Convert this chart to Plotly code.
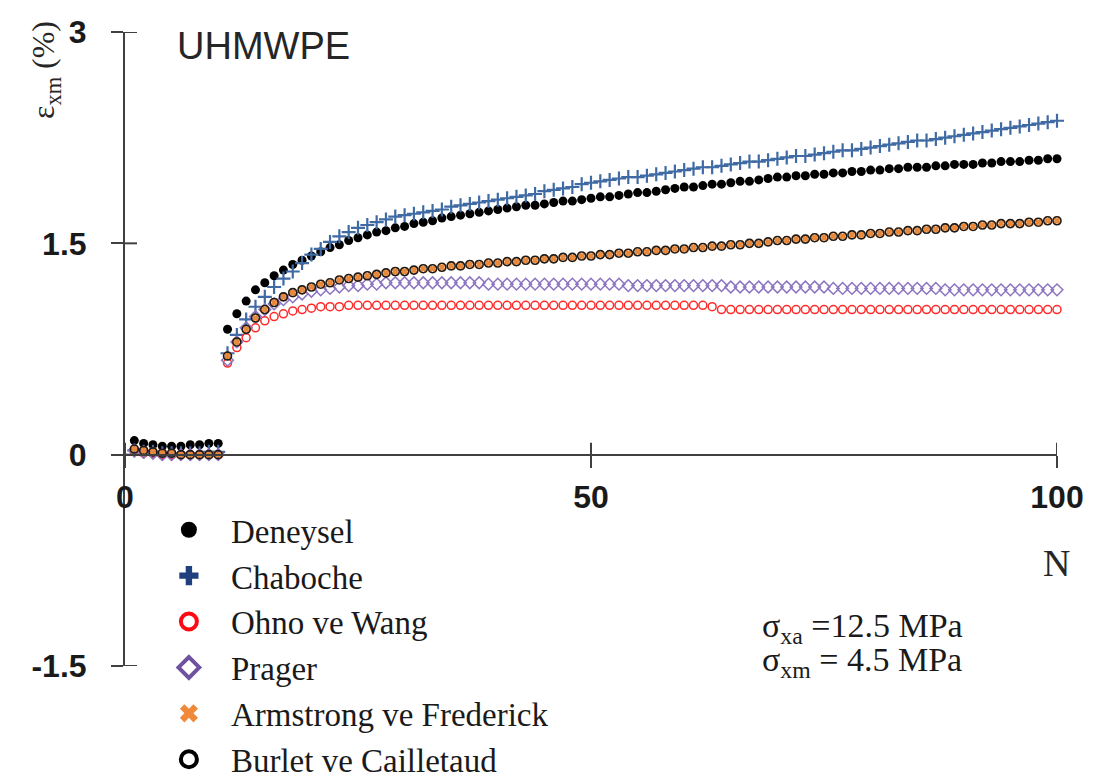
import plotly.graph_objects as go

# Cycle number N = 1 .. 100
cycles = list(range(1, 101))

deneysel = [
    0.10, 0.08, 0.07, 0.06, 0.06, 0.06, 0.07, 0.07, 0.08, 0.08,
    0.89, 1.00, 1.09, 1.17, 1.22, 1.27, 1.31, 1.35, 1.38, 1.41,
    1.44, 1.47, 1.49, 1.52, 1.54, 1.56, 1.58, 1.59, 1.61, 1.62,
    1.64, 1.65, 1.66, 1.68, 1.69, 1.70, 1.71, 1.72, 1.73, 1.74,
    1.75, 1.76, 1.77, 1.77, 1.78, 1.79, 1.80, 1.80, 1.81, 1.82,
    1.83, 1.83, 1.84, 1.85, 1.86, 1.86, 1.87, 1.88, 1.89, 1.90,
    1.90, 1.91, 1.92, 1.92, 1.93, 1.94, 1.94, 1.95, 1.96, 1.97,
    1.97, 1.98, 1.98, 1.99, 1.99, 2.00, 2.00, 2.01, 2.01, 2.02,
    2.02, 2.03, 2.03, 2.04, 2.04, 2.04, 2.05, 2.05, 2.06, 2.06,
    2.06, 2.07, 2.07, 2.08, 2.08, 2.08, 2.09, 2.09, 2.10, 2.10,
]

chaboche = [
    0.03, 0.02, 0.02, 0.01, 0.01, 0.01, 0.01, 0.01, 0.02, 0.02,
    0.72, 0.85, 0.96, 1.05, 1.12, 1.19, 1.25, 1.30, 1.36, 1.42,
    1.46, 1.51, 1.55, 1.58, 1.61, 1.63, 1.65, 1.67, 1.69, 1.70,
    1.71, 1.72, 1.73, 1.74, 1.76, 1.77, 1.78, 1.79, 1.80, 1.81,
    1.82, 1.83, 1.84, 1.85, 1.87, 1.88, 1.89, 1.90, 1.92, 1.93,
    1.94, 1.95, 1.96, 1.97, 1.97, 1.98, 1.99, 2.00, 2.01, 2.02,
    2.03, 2.04, 2.04, 2.05, 2.06, 2.07, 2.08, 2.08, 2.09, 2.10,
    2.11, 2.12, 2.12, 2.13, 2.14, 2.15, 2.16, 2.16, 2.17, 2.18,
    2.19, 2.20, 2.21, 2.22, 2.23, 2.23, 2.24, 2.25, 2.26, 2.27,
    2.28, 2.29, 2.30, 2.31, 2.32, 2.33, 2.34, 2.35, 2.36, 2.37,
]

ohno_wang = [
    0.02, 0.01, 0.01, 0.00, 0.00, 0.00, 0.00, 0.00, 0.00, 0.00,
    0.65, 0.76, 0.83, 0.90, 0.95, 0.98, 1.00, 1.02, 1.03, 1.04,
    1.05, 1.05, 1.05, 1.06, 1.06, 1.06, 1.06, 1.06, 1.06, 1.06,
    1.06, 1.06, 1.06, 1.06, 1.06, 1.06, 1.06, 1.06, 1.06, 1.06,
    1.06, 1.06, 1.06, 1.06, 1.06, 1.06, 1.06, 1.06, 1.06, 1.06,
    1.06, 1.06, 1.06, 1.06, 1.06, 1.06, 1.06, 1.06, 1.06, 1.06,
    1.06, 1.06, 1.05, 1.03, 1.03, 1.03, 1.03, 1.03, 1.03, 1.03,
    1.03, 1.03, 1.03, 1.03, 1.03, 1.03, 1.03, 1.03, 1.03, 1.03,
    1.03, 1.03, 1.03, 1.03, 1.03, 1.03, 1.03, 1.03, 1.03, 1.03,
    1.03, 1.03, 1.03, 1.03, 1.03, 1.03, 1.03, 1.03, 1.03, 1.03,
]

prager = [
    0.03, 0.02, 0.01, 0.00, 0.00, 0.00, 0.00, 0.00, 0.00, 0.00,
    0.67, 0.80, 0.90, 0.98, 1.03, 1.07, 1.10, 1.12, 1.14, 1.16,
    1.17, 1.18, 1.19, 1.20, 1.20, 1.21, 1.21, 1.22, 1.22, 1.22,
    1.22, 1.22, 1.22, 1.22, 1.22, 1.22, 1.22, 1.22, 1.21, 1.21,
    1.21, 1.21, 1.21, 1.21, 1.21, 1.21, 1.21, 1.21, 1.21, 1.21,
    1.21, 1.21, 1.21, 1.20, 1.20, 1.20, 1.20, 1.20, 1.20, 1.20,
    1.20, 1.20, 1.20, 1.20, 1.19, 1.19, 1.19, 1.19, 1.19, 1.19,
    1.19, 1.19, 1.19, 1.19, 1.19, 1.18, 1.18, 1.18, 1.18, 1.18,
    1.18, 1.18, 1.18, 1.18, 1.18, 1.18, 1.18, 1.17, 1.17, 1.17,
    1.17, 1.17, 1.17, 1.17, 1.17, 1.17, 1.17, 1.17, 1.17, 1.17,
]

armstrong_frederick = [
    0.04, 0.03, 0.02, 0.01, 0.01, 0.00, 0.00, 0.00, 0.00, 0.00,
    0.70, 0.80, 0.89, 0.97, 1.03, 1.08, 1.12, 1.15, 1.17, 1.19,
    1.21, 1.22, 1.24, 1.25, 1.26, 1.27, 1.28, 1.29, 1.30, 1.30,
    1.31, 1.32, 1.32, 1.33, 1.34, 1.34, 1.35, 1.35, 1.36, 1.36,
    1.37, 1.37, 1.38, 1.38, 1.39, 1.39, 1.40, 1.40, 1.41, 1.41,
    1.42, 1.42, 1.43, 1.43, 1.44, 1.44, 1.45, 1.45, 1.46, 1.46,
    1.47, 1.47, 1.48, 1.48, 1.49, 1.49, 1.50, 1.50, 1.51, 1.52,
    1.52, 1.53, 1.53, 1.54, 1.54, 1.55, 1.55, 1.56, 1.56, 1.57,
    1.57, 1.58, 1.58, 1.59, 1.59, 1.60, 1.60, 1.61, 1.61, 1.62,
    1.62, 1.63, 1.63, 1.64, 1.64, 1.64, 1.65, 1.65, 1.66, 1.66,
]

burlet_cailletaud = [
    0.04, 0.03, 0.02, 0.01, 0.01, 0.00, 0.00, 0.00, 0.00, 0.00,
    0.70, 0.80, 0.89, 0.97, 1.03, 1.08, 1.12, 1.15, 1.17, 1.19,
    1.21, 1.22, 1.24, 1.25, 1.26, 1.27, 1.28, 1.29, 1.30, 1.30,
    1.31, 1.32, 1.32, 1.33, 1.34, 1.34, 1.35, 1.35, 1.36, 1.36,
    1.37, 1.37, 1.38, 1.38, 1.39, 1.39, 1.40, 1.40, 1.41, 1.41,
    1.42, 1.42, 1.43, 1.43, 1.44, 1.44, 1.45, 1.45, 1.46, 1.46,
    1.47, 1.47, 1.48, 1.48, 1.49, 1.49, 1.50, 1.50, 1.51, 1.52,
    1.52, 1.53, 1.53, 1.54, 1.54, 1.55, 1.55, 1.56, 1.56, 1.57,
    1.57, 1.58, 1.58, 1.59, 1.59, 1.60, 1.60, 1.61, 1.61, 1.62,
    1.62, 1.63, 1.63, 1.64, 1.64, 1.64, 1.65, 1.65, 1.66, 1.66,
]

x_ticks = [0, 50, 100]
x_tick_text = ["0", "50", "100"]
y_ticks = [-1.5, 0, 1.5, 3]
y_tick_text = ["-1.5", "0", "1.5", "3"]

# name, values, plot marker, legend marker
series = [
    ("Deneysel", deneysel,
     dict(symbol="circle", size=9, color="#000000"),
     dict(symbol="circle", size=18, color="#000000")),
    ("Chaboche", chaboche,
     dict(symbol="cross-thin", size=10, color="#3F6AA3",
          line=dict(color="#3F6AA3", width=2.2)),
     dict(symbol="cross", size=16, color="#1F3F7F",
          line=dict(width=0))),
    ("Ohno ve Wang", ohno_wang,
     dict(symbol="circle-open", size=8, color="#FF2A2A",
          line=dict(width=1.5)),
     dict(symbol="circle-open", size=16, color="#FF0A14",
          line=dict(width=4))),
    ("Prager", prager,
     dict(symbol="diamond-open", size=9, color="#8C74C0",
          line=dict(width=1.5)),
     dict(symbol="diamond-open", size=18, color="#6E52A0",
          line=dict(width=4))),
    ("Armstrong ve Frederick", armstrong_frederick,
     dict(symbol="x", size=8, color="#E8883A", line=dict(width=0)),
     dict(symbol="x", size=18, color="#F08A3A", line=dict(width=0))),
    ("Burlet ve Cailletaud", burlet_cailletaud,
     dict(symbol="circle-open", size=8, color="#1A1A1A",
          line=dict(width=1.6)),
     dict(symbol="circle-open", size=16, color="#000000",
          line=dict(width=4))),
]

fig = go.Figure()

for name, values, mk, _ in series:
    fig.add_trace(go.Scatter(
        x=cycles, y=values, mode="markers", name=name,
        marker=mk, showlegend=False, cliponaxis=False,
    ))

# Larger symbols for the legend entries
for i, (name, _, _, lmk) in enumerate(series):
    fig.add_trace(go.Scatter(
        x=[None], y=[None], mode="markers", name=name,
        marker=lmk, legendgroup=f"g{i}", showlegend=True,
    ))

axis_color = "#404040"
tick_font = dict(family="Arial, Liberation Sans, sans-serif", size=32,
                 color="#1A1A1A", weight="bold")
TICK_LEN = 12

fig.update_layout(
    width=1094, height=780,
    margin=dict(l=125, r=37, t=32, b=114, autoexpand=False),
    plot_bgcolor="white", paper_bgcolor="white",
    xaxis=dict(
        range=[0, 100], tickvals=x_ticks, ticktext=x_tick_text,
        showgrid=False, zeroline=False, showline=True,
        linecolor=axis_color, linewidth=2,
        ticks="outside", ticklen=TICK_LEN, tickwidth=2, tickcolor=axis_color,
        anchor="free", position=1 / 3,
        tickfont=tick_font, ticklabelstandoff=2,
    ),
    yaxis=dict(
        range=[-1.5, 3], tickvals=y_ticks, ticktext=y_tick_text,
        showgrid=False, zeroline=False, showline=True,
        linecolor=axis_color, linewidth=2,
        ticks="outside", ticklen=TICK_LEN, tickwidth=2, tickcolor=axis_color,
        tickfont=tick_font, ticklabelstandoff=18,
    ),
    legend=dict(
        x=0.0235, y=0.259, xanchor="left", yanchor="top",
        font=dict(family="Liberation Serif, Times New Roman, serif",
                  size=33, color="#1A1A1A"),
        bgcolor="rgba(0,0,0,0)", tracegroupgap=0,
        itemsizing="trace", itemwidth=74,
    ),
    showlegend=True,
)

# Inner half of each tick, so the ticks cross the axis lines
for v in x_ticks:
    fig.add_shape(type="line", xref="x", yref="y", x0=v, x1=v,
                  ysizemode="pixel", yanchor=0, y0=0, y1=TICK_LEN,
                  line=dict(color=axis_color, width=2))
for v in y_ticks:
    fig.add_shape(type="line", xref="x", yref="y", y0=v, y1=v,
                  xsizemode="pixel", xanchor=0, x0=0, x1=TICK_LEN,
                  line=dict(color=axis_color, width=2))

serif = "Liberation Serif, Times New Roman, serif"
annotations = [
    dict(text="UHMWPE", x=175, y=46, xanchor="left", yanchor="middle",
         font=dict(family="Arial, Liberation Sans, sans-serif", size=38,
                   color="#262626")),
    dict(text="ε<sub>xm</sub> (%)", x=46, y=70, textangle=-90,
         xanchor="center", yanchor="middle",
         font=dict(family=serif, size=32, color="#262626")),
    dict(text="N", x=1056, y=563, xanchor="center", yanchor="middle",
         font=dict(family=serif, size=38, color="#262626")),
    dict(text="σ<sub>xa</sub> =12.5 MPa", x=760, y=628, xanchor="left",
         yanchor="middle", font=dict(family=serif, size=34, color="#1A1A1A")),
    dict(text="σ<sub>xm</sub> = 4.5 MPa", x=760, y=662, xanchor="left",
         yanchor="middle", font=dict(family=serif, size=34, color="#1A1A1A")),
]

# Place the free text in pixel terms relative to the plotting area
plot_l, plot_t, plot_w, plot_h = 125, 32, 1094 - 125 - 37, 780 - 32 - 114
for a in annotations:
    px, py = a.pop("x"), a.pop("y")
    fig.add_annotation(
        xref="paper", yref="paper",
        x=(px - plot_l) / plot_w, y=(plot_t + plot_h - py) / plot_h,
        showarrow=False, **a,
    )

fig.write_html("out.html")
